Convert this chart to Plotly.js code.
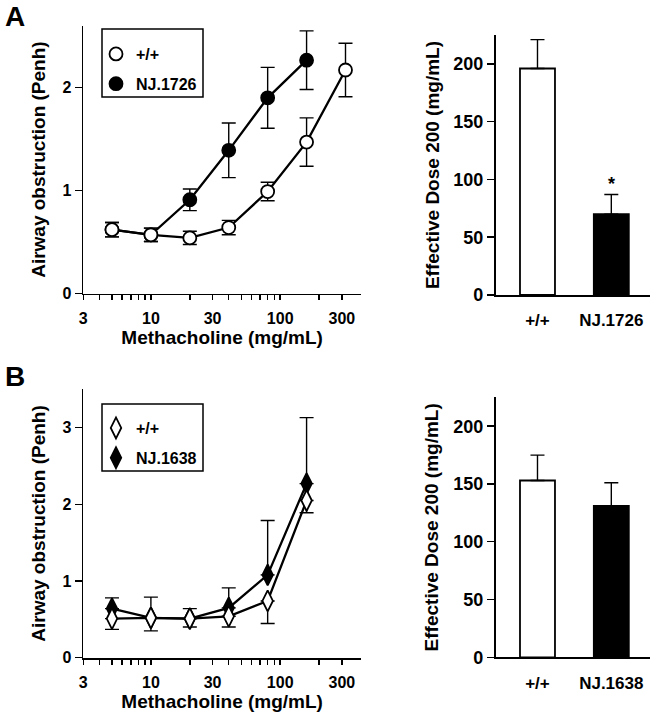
<!DOCTYPE html>
<html><head><meta charset="utf-8">
<script src="https://cdn.plot.ly/plotly-3.0.1.min.js"></script>
<style>html,body{margin:0;padding:0;background:#fff}#chart{width:658px;height:719px}</style>
</head><body><div id="chart"></div>
<script>
// ---- Panel A data ----
const dosesA = [5, 10, 20, 40, 80, 160, 320];
const wtA = [0.62, 0.57, 0.54, 0.64, 0.99, 1.47, 2.17];
const wtAErr = [0.07, 0.065, 0.065, 0.07, 0.09, 0.235, 0.26];
const dosesNJA = [5, 10, 20, 40, 80, 160];
const njA = [0.62, 0.57, 0.91, 1.39, 1.90, 2.265];
const njAErr = [0.07, 0.065, 0.105, 0.265, 0.295, 0.285];
const catsA = ['+/+', 'NJ.1726'];
const ed200A = [196, 70];
const ed200AErr = [25, 17];
// ---- Panel B data ----
const dosesB = [5, 10, 20, 40, 80, 160];
const wtB = [0.51, 0.52, 0.51, 0.54, 0.74, 2.05];
const wtBErrMinus = [0.14, 0.17, 0.11, 0.14, 0.295, 0.16];
const njB = [0.64, 0.52, 0.51, 0.65, 1.08, 2.27];
const njBErrPlus = [0.14, 0.27, 0.13, 0.26, 0.71, 0.86];
const catsB = ['+/+', 'NJ.1638'];
const ed200B = [153, 131];
const ed200BErr = [22, 20];
// ---- Tick labels ----
const doseTickVals = [3,4,5,6,7,8,9,10,20,30,40,50,60,70,80,90,100,200,300];
const doseTickText = ['3','','','','','','','10','','30','','','','','','','100','','300'];
const doseMajorVals = [10, 100];
const edTickVals = [0, 50, 100, 150, 200];
const penhTicksA = [0, 1, 2];
const penhTicksB = [0, 1, 2, 3];

const W = 658, H = 719;
const xd = (a, b) => [a / W, b / W];
const yd = (top, bottom) => [1 - bottom / H, 1 - top / H];
const FAM = 'Liberation Sans, Arial, Helvetica, sans-serif';
const f = (s) => ({family: FAM, size: s, color: '#000', weight: 'bold'});

const zeros = n => new Array(n).fill(0);

function lineTrace(x, y, xa, ya) {
  return {x, y, xaxis: xa, yaxis: ya, type: 'scatter', mode: 'lines',
    line: {color: '#000', width: 2.3}, showlegend: false, hoverinfo: 'skip'};
}
function markTrace(x, y, xa, ya, name, sym, size, fill, err, legend, rank) {
  return {x, y, xaxis: xa, yaxis: ya, type: 'scatter', mode: 'markers', name,
    legend, legendgroup: name + xa, legendrank: rank,
    marker: {symbol: sym, size, color: fill, line: {color: '#000', width: 1.8}},
    error_y: Object.assign({type: 'data', color: '#000', thickness: 1.4, width: 7}, err)};
}

const data = [
  // Panel A curves
  lineTrace(dosesNJA, njA, 'x', 'y'),
  lineTrace(dosesA, wtA, 'x', 'y'),
  markTrace(dosesNJA, njA, 'x', 'y', 'NJ.1726', 'circle', 13, '#000',
    {array: njAErr, symmetric: true}, 'legend', 2),
  markTrace(dosesA, wtA, 'x', 'y', '+/+', 'circle', 13, '#fff',
    {array: wtAErr, symmetric: true}, 'legend', 1),
  // Panel A bars
  {x: catsA, y: ed200A, xaxis: 'x2', yaxis: 'y2', type: 'bar', width: 0.474,
    marker: {color: ['#fff', '#000'], line: {color: '#000', width: 1.8}},
    error_y: {type: 'data', symmetric: false, array: ed200AErr, arrayminus: zeros(2),
      color: '#000', thickness: 1.4, width: 7}, showlegend: false},
  // Panel B curves
  lineTrace(dosesB, njB, 'x3', 'y3'),
  lineTrace(dosesB, wtB, 'x3', 'y3'),
  markTrace(dosesB, njB, 'x3', 'y3', 'NJ.1638', 'diamond-tall', 15, '#000',
    {symmetric: false, array: njBErrPlus, arrayminus: zeros(njB.length)}, 'legend2', 2),
  markTrace(dosesB, wtB, 'x3', 'y3', '+/+', 'diamond-tall', 15, '#fff',
    {symmetric: false, array: zeros(wtB.length), arrayminus: wtBErrMinus}, 'legend2', 1),
  // Panel B bars
  {x: catsB, y: ed200B, xaxis: 'x4', yaxis: 'y4', type: 'bar', width: 0.474,
    marker: {color: ['#fff', '#000'], line: {color: '#000', width: 1.8}},
    error_y: {type: 'data', symmetric: false, array: ed200BErr, arrayminus: zeros(2),
      color: '#000', thickness: 1.4, width: 7}, showlegend: false}
];

const baseAx = {showgrid: false, zeroline: false, showline: true, linecolor: '#000',
  linewidth: 1.8, ticks: 'outside', tickcolor: '#000', tickwidth: 1.5, fixedrange: true};

function doseAxis(dom, anchor) {
  return Object.assign({}, baseAx, {type: 'log', domain: dom, anchor,
    range: [Math.log10(3), 2.625], tickmode: 'array', tickvals: doseTickVals,
    ticktext: doseTickText, ticklen: 5, tickfont: f(16), ticklabelstandoff: 4,
    title: {text: 'Methacholine (mg/mL)', font: f(19), standoff: 5}});
}
function majorOverlay(over, anchor) {
  return {type: 'log', overlaying: over, anchor, range: [Math.log10(3), 2.625],
    tickmode: 'array', tickvals: doseMajorVals, ticks: 'outside', ticklen: 9,
    tickwidth: 1.5, tickcolor: '#000', showticklabels: false, showline: false,
    showgrid: false, zeroline: false, fixedrange: true};
}
function penhAxis(dom, anchor, range, tv) {
  return Object.assign({}, baseAx, {domain: dom, anchor, range, tickmode: 'array',
    tickvals: tv, ticklen: 7, tickfont: f(16),
    title: {text: 'Airway obstruction (Penh)', font: f(19), standoff: 12}});
}
function catAxis(dom, anchor) {
  return Object.assign({}, baseAx, {domain: dom, anchor, range: [-0.566, 1.524],
    ticks: '', tickfont: f(17), ticklabelstandoff: 9});
}
function edAxis(dom, anchor) {
  return Object.assign({}, baseAx, {domain: dom, anchor, range: [0, 225],
    tickmode: 'array', tickvals: edTickVals, ticklen: 7, tickfont: f(18),
    title: {text: 'Effective Dose 200 (mg/mL)', font: f(19), standoff: 9}});
}

const legendBase = {bgcolor: 'rgba(0,0,0,0)', borderwidth: 0,
  font: f(16), xanchor: 'left', yanchor: 'top', traceorder: 'grouped',
  tracegroupgap: 6, itemclick: false, itemdoubleclick: false};

const boxLine = {color: '#000', width: 1.5};

const layout = {
  width: W, height: H, margin: {l: 0, r: 0, t: 0, b: 0},
  paper_bgcolor: '#fff', plot_bgcolor: '#fff', font: f(15), hovermode: false,
  xaxis: doseAxis(xd(83.3, 361), 'y'),
  yaxis: penhAxis(yd(25.7, 293.5), 'x', [0, 2.6], penhTicksA),
  xaxis2: catAxis(xd(495.7, 650), 'y2'),
  yaxis2: edAxis(yd(35, 295), 'x2'),
  xaxis3: doseAxis(xd(83.3, 361), 'y3'),
  yaxis3: penhAxis(yd(389.3, 657.7), 'x3', [0, 3.5], penhTicksB),
  xaxis4: catAxis(xd(495.7, 650), 'y4'),
  yaxis4: edAxis(yd(397.3, 657.3), 'x4'),
  xaxis5: majorOverlay('x', 'y'),
  xaxis6: majorOverlay('x3', 'y3'),
  legend: Object.assign({}, legendBase, {x: 96 / W, y: 1 - 37 / H}),
  legend2: Object.assign({}, legendBase, {x: 96 / W, y: 1 - 411 / H}),
  shapes: [
    {type: 'rect', xref: 'paper', yref: 'paper', x0: 102 / W, x1: 203 / W,
      y0: 1 - 97 / H, y1: 1 - 29 / H, line: boxLine, fillcolor: 'rgba(0,0,0,0)', layer: 'above'},
    {type: 'rect', xref: 'paper', yref: 'paper', x0: 102 / W, x1: 203 / W,
      y0: 1 - 471 / H, y1: 1 - 404 / H, line: boxLine, fillcolor: 'rgba(0,0,0,0)', layer: 'above'}
  ],
  annotations: [
    {text: 'A', xref: 'paper', yref: 'paper', x: 14.5 / W, y: 1 - 17 / H,
      xanchor: 'center', yanchor: 'middle', showarrow: false, font: f(28)},
    {text: 'B', xref: 'paper', yref: 'paper', x: 15 / W, y: 1 - 376 / H,
      xanchor: 'center', yanchor: 'middle', showarrow: false, font: f(28)},
    {text: '*', xref: 'x2', yref: 'y2', x: catsA[1], y: ed200A[1] + ed200AErr[1],
      xanchor: 'center', yanchor: 'bottom', yshift: -2, showarrow: false, font: f(18)}
  ]
};

Plotly.newPlot('chart', data, layout, {staticPlot: true, displayModeBar: false});
</script>
</body></html>
